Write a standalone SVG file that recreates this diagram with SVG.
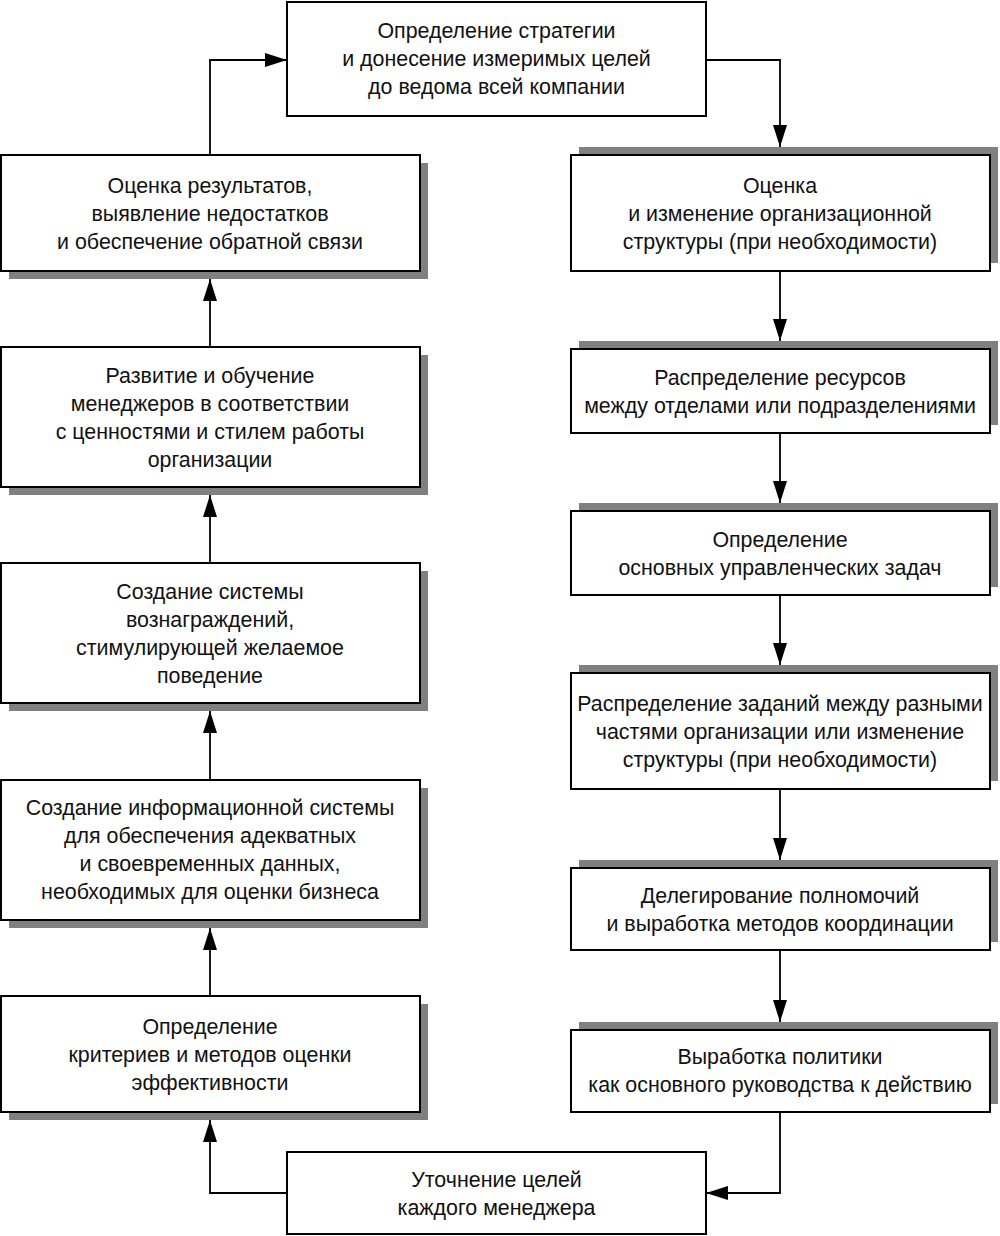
<svg xmlns="http://www.w3.org/2000/svg" width="1000" height="1236" viewBox="0 0 1000 1236">
<style>
.box{fill:#fff;stroke:#000;stroke-width:2}
.sh{fill:#808080}
.t{font-family:"Liberation Sans",Arial,sans-serif;font-size:21.4px;fill:#111;text-anchor:middle}
.c{fill:none;stroke:#000;stroke-width:1.8}
</style>
<defs>
<marker id="b" viewBox="0 0 22 14" refX="22" refY="7" markerWidth="22" markerHeight="14" markerUnits="userSpaceOnUse" orient="auto">
<path d="M0,0 L22,7 L0,14 z" fill="#000"/>
</marker>
</defs>
<g id="connectors">
<path class="c" d="M706,60 H780 V147" marker-end="url(#b)"/>
<path class="c" d="M780,271 V341" marker-end="url(#b)"/>
<path class="c" d="M780,433 V503" marker-end="url(#b)"/>
<path class="c" d="M780,595 V665" marker-end="url(#b)"/>
<path class="c" d="M780,789 V860" marker-end="url(#b)"/>
<path class="c" d="M780,950 V1022" marker-end="url(#b)"/>
<path class="c" d="M780,1112 V1193 H706" marker-end="url(#b)"/>
<path class="c" d="M287,1193 H210 V1120" marker-end="url(#b)"/>
<path class="c" d="M210,996 V928" marker-end="url(#b)"/>
<path class="c" d="M210,780 V711" marker-end="url(#b)"/>
<path class="c" d="M210,563 V495" marker-end="url(#b)"/>
<path class="c" d="M210,347 V279" marker-end="url(#b)"/>
<path class="c" d="M210,155 V60 H287" marker-end="url(#b)"/>
</g>
<g id="n-top">
<rect class="box" x="287" y="2" width="419" height="114"/>
<text class="t" x="496.5" y="38">Определение стратегии</text>
<text class="t" x="496.5" y="66">и донесение измеримых целей</text>
<text class="t" x="496.5" y="94">до ведома всей компании</text>
</g>
<g id="n-r1">
<rect class="sh" x="579" y="147" width="419" height="116"/>
<rect class="box" x="571" y="155" width="419" height="116"/>
<text class="t" x="780" y="193">Оценка</text>
<text class="t" x="780" y="221">и изменение организационной</text>
<text class="t" x="780" y="249">структуры (при необходимости)</text>
</g>
<g id="n-r2">
<rect class="sh" x="579" y="341" width="419" height="84"/>
<rect class="box" x="571" y="349" width="419" height="84"/>
<text class="t" x="780" y="385">Распределение ресурсов</text>
<text class="t" x="780" y="413">между отделами или подразделениями</text>
</g>
<g id="n-r3">
<rect class="sh" x="579" y="503" width="419" height="84"/>
<rect class="box" x="571" y="511" width="419" height="84"/>
<text class="t" x="780" y="547">Определение</text>
<text class="t" x="780" y="575">основных управленческих задач</text>
</g>
<g id="n-r4">
<rect class="sh" x="579" y="665" width="419" height="116"/>
<rect class="box" x="571" y="673" width="419" height="116"/>
<text class="t" x="780" y="711">Распределение заданий между разными</text>
<text class="t" x="780" y="739">частями организации или изменение</text>
<text class="t" x="780" y="767">структуры (при необходимости)</text>
</g>
<g id="n-r5">
<rect class="sh" x="579" y="860" width="419" height="82"/>
<rect class="box" x="571" y="868" width="419" height="82"/>
<text class="t" x="780" y="903">Делегирование полномочий</text>
<text class="t" x="780" y="931">и выработка методов координации</text>
</g>
<g id="n-r6">
<rect class="sh" x="579" y="1022" width="419" height="82"/>
<rect class="box" x="571" y="1030" width="419" height="82"/>
<text class="t" x="780" y="1064">Выработка политики</text>
<text class="t" x="780" y="1092">как основного руководства к действию</text>
</g>
<g id="n-l1">
<rect class="sh" x="9" y="163" width="419" height="116"/>
<rect class="box" x="1" y="155" width="419" height="116"/>
<text class="t" x="210" y="193">Оценка результатов,</text>
<text class="t" x="210" y="221">выявление недостатков</text>
<text class="t" x="210" y="249">и обеспечение обратной связи</text>
</g>
<g id="n-l2">
<rect class="sh" x="9" y="355" width="419" height="140"/>
<rect class="box" x="1" y="347" width="419" height="140"/>
<text class="t" x="210" y="383">Развитие и обучение</text>
<text class="t" x="210" y="411">менеджеров в соответствии</text>
<text class="t" x="210" y="439">с ценностями и стилем работы</text>
<text class="t" x="210" y="467">организации</text>
</g>
<g id="n-l3">
<rect class="sh" x="9" y="571" width="419" height="140"/>
<rect class="box" x="1" y="563" width="419" height="140"/>
<text class="t" x="210" y="599">Создание системы</text>
<text class="t" x="210" y="627">вознаграждений,</text>
<text class="t" x="210" y="655">стимулирующей желаемое</text>
<text class="t" x="210" y="683">поведение</text>
</g>
<g id="n-l4">
<rect class="sh" x="9" y="788" width="419" height="140"/>
<rect class="box" x="1" y="780" width="419" height="140"/>
<text class="t" x="210" y="815">Создание информационной системы</text>
<text class="t" x="210" y="843">для обеспечения адекватных</text>
<text class="t" x="210" y="871">и своевременных данных,</text>
<text class="t" x="210" y="899">необходимых для оценки бизнеса</text>
</g>
<g id="n-l5">
<rect class="sh" x="9" y="1004" width="419" height="116"/>
<rect class="box" x="1" y="996" width="419" height="116"/>
<text class="t" x="210" y="1034">Определение</text>
<text class="t" x="210" y="1062">критериев и методов оценки</text>
<text class="t" x="210" y="1090">эффективности</text>
</g>
<g id="n-bottom">
<rect class="box" x="287" y="1152" width="419" height="82"/>
<text class="t" x="496.5" y="1187">Уточнение целей</text>
<text class="t" x="496.5" y="1215">каждого менеджера</text>
</g>
</svg>
